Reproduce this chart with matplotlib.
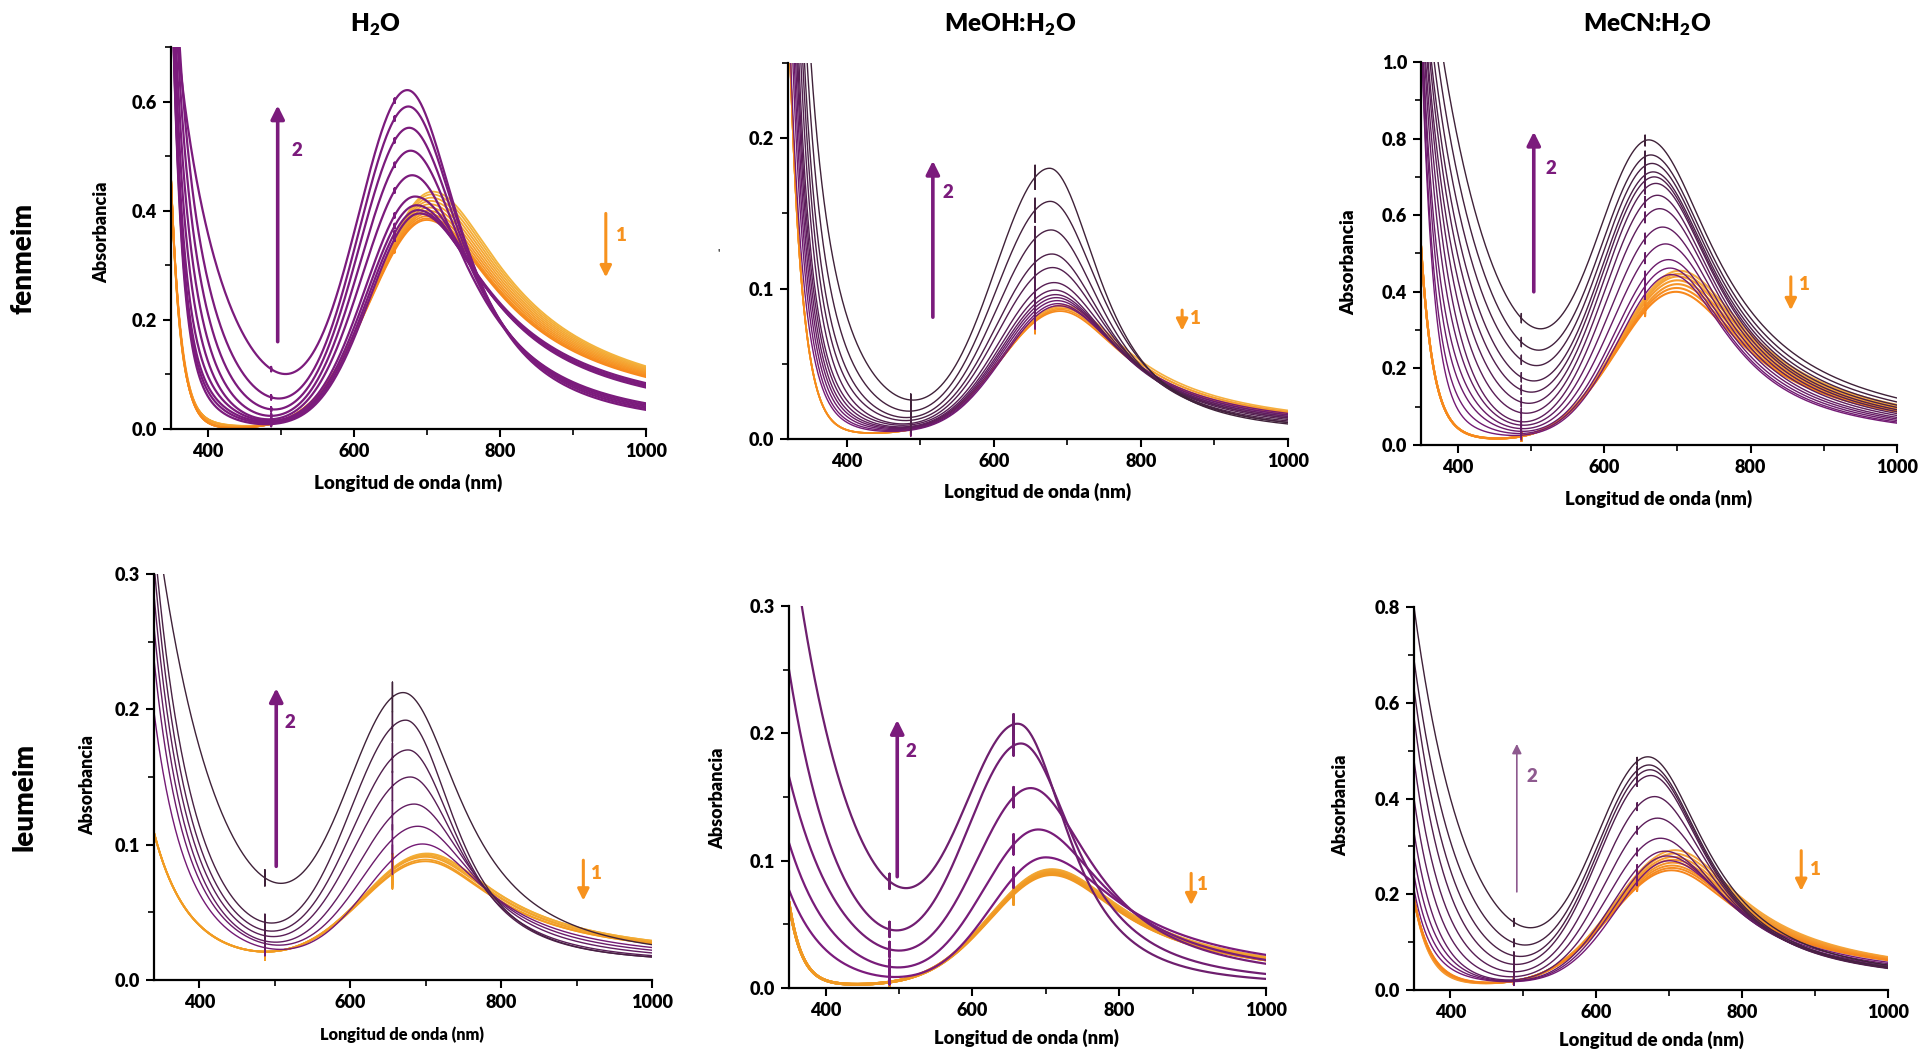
import numpy as np
import matplotlib

matplotlib.use("Agg")

import matplotlib.pyplot as plt
from matplotlib.colors import to_rgb
from matplotlib.ticker import FormatStrFormatter, MultipleLocator


plt.rcParams["font.family"] = ["Lato", "DejaVu Sans"]
plt.rcParams["font.weight"] = "heavy"
plt.rcParams["mathtext.fontset"] = "custom"
plt.rcParams["mathtext.rm"] = "Lato:heavy"
plt.rcParams["mathtext.bf"] = "Lato:heavy"

FIG_W, FIG_H = 1919, 1057

# Each spectrum row: peak absorbance, peak wavelength (nm), A(1000 nm), A(350 nm), A(400 nm), A(495 nm)
# Rows are in acquisition order: orange series (step 1) then purple series (step 2).

FEN_H2O_ORANGE = [
    (0.435, 708, 0.115, 0.46, 0.012, 0.012),
    (0.430, 707, 0.113, 0.46, 0.012, 0.012),
    (0.424, 706, 0.111, 0.46, 0.012, 0.012),
    (0.418, 705, 0.109, 0.46, 0.012, 0.012),
    (0.412, 704, 0.107, 0.46, 0.012, 0.012),
    (0.406, 703, 0.105, 0.46, 0.012, 0.012),
    (0.400, 702, 0.103, 0.46, 0.012, 0.012),
    (0.395, 701, 0.101, 0.46, 0.012, 0.012),
    (0.390, 700, 0.099, 0.46, 0.012, 0.012),
    (0.386, 700, 0.097, 0.46, 0.012, 0.012),
    (0.383, 700, 0.095, 0.46, 0.012, 0.012),
]
FEN_H2O_PURPLE = [
    (0.395, 690, 0.084, 0.90, 0.05, 0.010),
    (0.401, 688, 0.081, 0.90, 0.06, 0.012),
    (0.410, 686, 0.079, 0.90, 0.07, 0.014),
    (0.426, 684, 0.076, 0.90, 0.09, 0.016),
    (0.465, 680, 0.047, 0.92, 0.12, 0.019),
    (0.510, 678, 0.044, 0.95, 0.16, 0.025),
    (0.552, 676, 0.041, 1.00, 0.21, 0.036),
    (0.591, 675, 0.038, 1.05, 0.27, 0.056),
    (0.621, 674, 0.035, 0.85, 0.36, 0.104),
]

FEN_MEOH_ORANGE = [
    (0.089, 693, 0.019, 0.055, 0.006, 0.007),
    (0.088, 692, 0.018, 0.055, 0.006, 0.007),
    (0.087, 692, 0.018, 0.055, 0.006, 0.007),
    (0.086, 691, 0.017, 0.055, 0.006, 0.007),
    (0.085, 690, 0.017, 0.055, 0.006, 0.007),
]
FEN_MEOH_PURPLE = [
    (0.0886, 688, 0.017, 0.07, 0.008, 0.0065),
    (0.090, 687, 0.016, 0.08, 0.009, 0.0070),
    (0.092, 686, 0.016, 0.09, 0.011, 0.0075),
    (0.094, 685, 0.015, 0.10, 0.013, 0.0080),
    (0.096, 684, 0.015, 0.11, 0.015, 0.0085),
    (0.099, 683, 0.014, 0.12, 0.018, 0.0090),
    (0.104, 682, 0.014, 0.13, 0.021, 0.0100),
    (0.114, 680, 0.013, 0.15, 0.026, 0.0110),
    (0.123, 679, 0.012, 0.17, 0.033, 0.0130),
    (0.139, 678, 0.011, 0.19, 0.041, 0.0150),
    (0.158, 677, 0.011, 0.22, 0.055, 0.0190),
    (0.180, 676, 0.010, 0.26, 0.077, 0.0260),
]

FEN_MECN_ORANGE = [
    (0.455, 703, 0.105, 0.52, 0.025, 0.026),
    (0.447, 702, 0.101, 0.52, 0.025, 0.026),
    (0.440, 701, 0.098, 0.52, 0.025, 0.026),
    (0.430, 700, 0.095, 0.52, 0.025, 0.026),
    (0.420, 700, 0.092, 0.52, 0.025, 0.026),
    (0.410, 699, 0.089, 0.52, 0.025, 0.026),
    (0.400, 698, 0.087, 0.52, 0.025, 0.026),
]
FEN_MECN_PURPLE = [
    (0.445, 692, 0.057, 1.10, 0.05, 0.027),
    (0.462, 690, 0.060, 1.10, 0.09, 0.031),
    (0.484, 688, 0.064, 1.15, 0.14, 0.036),
    (0.525, 684, 0.068, 1.15, 0.19, 0.043),
    (0.569, 680, 0.072, 1.20, 0.25, 0.052),
    (0.617, 676, 0.077, 1.20, 0.31, 0.061),
    (0.652, 673, 0.082, 1.25, 0.37, 0.083),
    (0.683, 671, 0.087, 1.25, 0.43, 0.109),
    (0.700, 669, 0.092, 1.30, 0.49, 0.139),
    (0.713, 668, 0.098, 1.30, 0.55, 0.170),
    (0.735, 667, 0.104, 1.35, 0.62, 0.213),
    (0.757, 666, 0.112, 1.40, 0.70, 0.257),
    (0.796, 664, 0.122, 1.45, 0.80, 0.317),
]

LEU_H2O_ORANGE = [
    (0.0935, 702, 0.029, 0.09, 0.039, 0.021),
    (0.0930, 702, 0.029, 0.09, 0.039, 0.021),
    (0.0920, 701, 0.028, 0.09, 0.039, 0.021),
    (0.0910, 700, 0.028, 0.09, 0.039, 0.021),
    (0.0890, 700, 0.027, 0.09, 0.039, 0.021),
    (0.0877, 700, 0.027, 0.09, 0.039, 0.021),
]
LEU_H2O_PURPLE = [
    (0.1005, 696, 0.024, 0.16, 0.060, 0.023),
    (0.1136, 690, 0.022, 0.19, 0.068, 0.026),
    (0.1300, 685, 0.020, 0.21, 0.076, 0.028),
    (0.1500, 680, 0.018, 0.23, 0.085, 0.032),
    (0.1700, 677, 0.017, 0.25, 0.095, 0.036),
    (0.1920, 674, 0.017, 0.27, 0.110, 0.042),
    (0.2123, 672, 0.026, 0.31, 0.172, 0.073),
]

LEU_MEOH_ORANGE = [
    (0.0930, 708, 0.024, 0.067, 0.006, 0.005),
    (0.0925, 708, 0.024, 0.067, 0.006, 0.005),
    (0.0920, 708, 0.023, 0.067, 0.006, 0.005),
    (0.0915, 708, 0.023, 0.067, 0.006, 0.005),
    (0.0910, 708, 0.023, 0.067, 0.006, 0.005),
    (0.0905, 708, 0.022, 0.067, 0.006, 0.005),
    (0.0900, 708, 0.022, 0.067, 0.006, 0.005),
    (0.0890, 708, 0.022, 0.067, 0.006, 0.005),
]
LEU_MEOH_PURPLE = [
    (0.1026, 700, 0.026, 0.077, 0.030, 0.0050),
    (0.1245, 690, 0.022, 0.114, 0.051, 0.0090),
    (0.1570, 680, 0.019, 0.166, 0.082, 0.0155),
    (0.1920, 667, 0.011, 0.250, 0.122, 0.0275),
    (0.2074, 664, 0.007, 0.370, 0.203, 0.0670),
]

LEU_MECN_ORANGE = [
    (0.292, 708, 0.069, 0.19, 0.027, 0.021),
    (0.285, 707, 0.068, 0.19, 0.027, 0.021),
    (0.278, 706, 0.067, 0.19, 0.027, 0.021),
    (0.272, 705, 0.066, 0.19, 0.027, 0.021),
    (0.266, 705, 0.065, 0.19, 0.027, 0.021),
    (0.260, 704, 0.064, 0.19, 0.027, 0.021),
    (0.255, 704, 0.063, 0.19, 0.027, 0.021),
    (0.250, 703, 0.062, 0.19, 0.027, 0.021),
]
LEU_MECN_PURPLE = [
    (0.270, 700, 0.058, 0.21, 0.035, 0.018),
    (0.280, 697, 0.055, 0.24, 0.045, 0.019),
    (0.290, 694, 0.052, 0.28, 0.060, 0.020),
    (0.317, 688, 0.050, 0.33, 0.080, 0.021),
    (0.359, 684, 0.048, 0.40, 0.110, 0.027),
    (0.404, 680, 0.046, 0.48, 0.150, 0.037),
    (0.448, 675, 0.045, 0.57, 0.200, 0.051),
    (0.460, 674, 0.046, 0.63, 0.250, 0.065),
    (0.470, 673, 0.048, 0.69, 0.310, 0.083),
    (0.487, 672, 0.052, 0.80, 0.400, 0.110),
]

SOLVENTS = ["H$_2$O", "MeOH:H$_2$O", "MeCN:H$_2$O"]
COMPOUNDS = ["fenmeim", "leumeim"]

PURPLE = "#7b1b7c"
ORANGE = "#f7921e"
LN2 = np.log(2.0)


def band(wl, height, center, tail, width_left, gamma):
    # gaussian blue side, slow power-law red side that lands on the 1000 nm value
    d = np.asarray(wl, dtype=float) - center
    tail = max(tail, 1e-4)
    power = np.log(height / tail) / np.log(1.0 + ((1000.0 - center) / gamma) ** 2)
    left = height * np.exp(-LN2 * (d / width_left) ** 2)
    right = height * (1.0 + (d / gamma) ** 2) ** (-power)
    return np.where(d < 0, left, right)


def uv_terms(row, height, width_left, gamma, base, edge_decay):
    peak, center, tail, a350, a400, a495 = row

    def b(x):
        return float(band(x, height, center, tail - base, width_left, gamma))

    uv400 = max(a400 - base - b(400.0), 1e-4)
    uv495 = max(a495 - base - b(495.0), 1e-5)
    decay = float(np.clip(95.0 / np.log(max(uv400 / uv495, 1.01)), 10.0, 160.0))
    broad = uv400 * np.exp(50.0 / decay)
    cap = a350 - base - b(350.0)
    if broad > cap and cap > uv400:
        decay = 50.0 / np.log(cap / uv400)
        broad = cap
    edge = max(cap - broad, 0.0)

    def uv(x):
        return (broad * np.exp(-(x - 350.0) / decay)
                + edge * np.exp(-(x - 350.0) / edge_decay))
    return uv


def spectrum(wl, row, width_left, gamma, base, edge_decay):
    peak, center, tail = row[0], row[1], row[2]
    height = peak - base
    for _ in range(4):
        uv = uv_terms(row, height, width_left, gamma, base, edge_decay)
        height = peak - base - float(uv(center))
    return base + band(wl, height, center, tail - base, width_left, gamma) + uv(wl)


def add_glitches(wl, y, spots):
    for pos, size in spots:
        i = int(np.searchsorted(wl, pos))
        v = y[i]
        wl = np.insert(wl, i, [pos, pos, pos])
        y = np.insert(y, i, [v, v + size, v - size])
    return wl, y


def blend(c1, c2, n):
    a, b = np.array(to_rgb(c1)), np.array(to_rgb(c2))
    if n == 1:
        return [tuple(b)]
    return [tuple(a + (b - a) * k / (n - 1)) for k in range(n)]


THIN_PURPLE = ("#741a75", "#3f2239")

PANELS = [
    dict(
        orange=FEN_H2O_ORANGE, purple=FEN_H2O_PURPLE,
        rect=(171, 47, 646, 429), xlim=(350, 1000), ylim=(0, 0.7), ystep=0.2,
        shape=(80, 92, 95, 0.0, 12), glitch=((487, 0.004), (656, 0.004)),
        purple_colors=(PURPLE, PURPLE), orange_colors=("#f3b43e", "#f7891c"),
        lw=(1.6, 1.3),
        up=(496, 0.16, 0.593, 2.6, PURPLE), up_label=(522, 0.511),
        down=(945, 0.395, 0.278), down_label=(967, 0.355),
        title=(375, 25, 0), ylabel=(102, 232, 13), xlabel=(408, 483, 13.5),
    ),
    dict(
        orange=FEN_MEOH_ORANGE, purple=FEN_MEOH_PURPLE,
        rect=(788, 63, 1288, 439), xlim=(320, 1000), ylim=(0, 0.25), ystep=0.1,
        shape=(88, 95, 95, 0.003, 18), glitch=((487, 0.004), (656, 0.008)),
        purple_colors=THIN_PURPLE, orange_colors=("#f5b040", "#f68a1c"),
        lw=(1.0, 1.2),
        up=(517, 0.081, 0.185, 2.6, PURPLE), up_label=(538, 0.164),
        down=(856, 0.0857, 0.072), down_label=(874, 0.080),
        title=(1010, 25, 1), ylabel=None, xlabel=(1038, 492, 13.4),
    ),
    dict(
        orange=FEN_MECN_ORANGE, purple=FEN_MECN_PURPLE,
        rect=(1421, 62, 1897, 445), xlim=(350, 1000), ylim=(0, 1.0), ystep=0.2,
        shape=(85, 95, 95, 0.008, 16), glitch=((487, 0.012), (656, 0.014)),
        purple_colors=THIN_PURPLE, orange_colors=("#f5ae40", "#f7881c"),
        lw=(1.0, 1.5),
        up=(504, 0.40, 0.818, 2.6, PURPLE), up_label=(528, 0.722),
        down=(855, 0.439, 0.352), down_label=(874, 0.42),
        title=(1647, 25, 2), ylabel=(1349, 262, 13.5), xlabel=(1659, 499, 13.4),
    ),
    dict(
        orange=LEU_H2O_ORANGE, purple=LEU_H2O_PURPLE,
        rect=(154, 574, 652, 980), xlim=(340, 1000), ylim=(0, 0.3), ystep=0.1,
        shape=(88, 100, 95, 0.012, 25), glitch=((487, 0.006), (656, 0.011)),
        purple_colors=THIN_PURPLE, orange_colors=("#f2b03a", "#f29b22"),
        lw=(1.0, 1.3),
        up=(502, 0.084, 0.2156, 2.6, PURPLE), up_label=(520, 0.19),
        down=(909, 0.0885, 0.0587), down_label=(927, 0.079),
        title=None, ylabel=(88, 785, 12.8), xlabel=(402, 1035, 11.8),
    ),
    dict(
        orange=LEU_MEOH_ORANGE, purple=LEU_MEOH_PURPLE,
        rect=(789, 606, 1266, 988), xlim=(350, 1000), ylim=(0, 0.3), ystep=0.1,
        shape=(88, 98, 100, 0.002, 18), glitch=((487, 0.006), (656, 0.008)),
        purple_colors=(PURPLE, "#6e1f6e"), orange_colors=("#f2aa38", "#f09822"),
        lw=(1.6, 2.0),
        up=(497.5, 0.0874, 0.2105, 2.6, PURPLE), up_label=(516, 0.186),
        down=(898, 0.090, 0.065), down_label=(914, 0.081),
        title=None, ylabel=(718, 798, 13), xlabel=(1026, 1038, 13.2),
    ),
    dict(
        orange=LEU_MECN_ORANGE, purple=LEU_MECN_PURPLE,
        rect=(1414, 607, 1888, 990), xlim=(350, 1000), ylim=(0, 0.8), ystep=0.2,
        shape=(85, 98, 95, 0.010, 20), glitch=((487, 0.008), (656, 0.008)),
        purple_colors=THIN_PURPLE, orange_colors=("#f5a73c", "#f5851c"),
        lw=(1.0, 1.4),
        up=(491, 0.205, 0.514, 1.2, "#8e5a8f"), up_label=(512, 0.445),
        down=(881, 0.291, 0.207), down_label=(900, 0.251),
        title=None, ylabel=(1341, 805, 13), xlabel=(1651, 1040, 13.2),
    ),
]


def fig_xy(x, y):
    return x / FIG_W, 1.0 - y / FIG_H


def draw_panel(fig, p):
    left, top, right, bottom = p["rect"]
    ax = fig.add_axes([
        left / FIG_W, 1.0 - bottom / FIG_H,
        (right - left) / FIG_W, (bottom - top) / FIG_H,
    ])

    wl = np.arange(p["xlim"][0], 1000.5, 1.0)
    wl_purple, wl_orange, gamma, base, edge_decay = p["shape"]
    lw_purple, lw_orange = p["lw"]

    orange_cols = blend(*p["orange_colors"], len(p["orange"]))
    for row, col in zip(p["orange"], orange_cols):
        y = spectrum(wl, row, wl_orange, gamma, base, edge_decay)
        xs, ys = add_glitches(wl, y, p["glitch"])
        ax.plot(xs, ys, color=col, lw=lw_orange, solid_joinstyle="round")

    purple_cols = blend(*p["purple_colors"], len(p["purple"]))
    for row, col in zip(p["purple"], purple_cols):
        y = spectrum(wl, row, wl_purple, gamma, base, edge_decay)
        xs, ys = add_glitches(wl, y, p["glitch"])
        ax.plot(xs, ys, color=col, lw=lw_purple, solid_joinstyle="round")

    ax.set_xlim(*p["xlim"])
    ax.set_ylim(*p["ylim"])
    ax.xaxis.set_major_locator(MultipleLocator(200))
    ax.xaxis.set_minor_locator(MultipleLocator(100))
    ax.yaxis.set_major_locator(MultipleLocator(p["ystep"]))
    ax.yaxis.set_minor_locator(MultipleLocator(p["ystep"] / 2))
    ax.yaxis.set_major_formatter(FormatStrFormatter("%.1f"))

    for side in ("top", "right"):
        ax.spines[side].set_visible(False)
    for side in ("left", "bottom"):
        ax.spines[side].set_linewidth(1.6)
    ax.tick_params(which="major", direction="out", length=6, width=1.5,
                   labelsize=13, pad=4)
    ax.tick_params(which="minor", direction="out", length=4, width=1.2)

    # reaction arrows
    x_up, y0, y1, arrow_lw, arrow_col = p["up"]
    ax.annotate("", xy=(x_up, y1), xytext=(x_up, y0),
                arrowprops=dict(arrowstyle="-|>", color=arrow_col, lw=arrow_lw,
                                mutation_scale=20 if arrow_lw > 2 else 14,
                                shrinkA=0, shrinkB=0))
    ax.text(*p["up_label"], "2", color=arrow_col, fontsize=13.5,
            ha="center", va="center")

    x_dn, y0, y1 = p["down"]
    ax.annotate("", xy=(x_dn, y1), xytext=(x_dn, y0),
                arrowprops=dict(arrowstyle="-|>", color=ORANGE, lw=2.2,
                                mutation_scale=17, shrinkA=0, shrinkB=0))
    ax.text(*p["down_label"], "1", color=ORANGE, fontsize=13.5,
            ha="center", va="center")

    if p["title"] is not None:
        tx, ty, idx = p["title"]
        fig.text(*fig_xy(tx, ty), SOLVENTS[idx], fontsize=17.5,
                 ha="center", va="center")
    if p["ylabel"] is not None:
        lx, ly, size = p["ylabel"]
        fig.text(*fig_xy(lx, ly), "Absorbancia", fontsize=size,
                 rotation=90, ha="center", va="center")
    lx, ly, size = p["xlabel"]
    fig.text(*fig_xy(lx, ly), "Longitud de onda (nm)", fontsize=size,
             ha="center", va="center")
    return ax


def main() -> None:
    fig = plt.figure(figsize=(FIG_W / 100, FIG_H / 100), dpi=100)
    fig.patch.set_facecolor("white")

    for panel in PANELS:
        draw_panel(fig, panel)

    fig.text(*fig_xy(24, 258), COMPOUNDS[0], fontsize=20,
             rotation=90, ha="center", va="center")
    fig.text(*fig_xy(24, 797), COMPOUNDS[1], fontsize=20,
             rotation=90, ha="center", va="center")
    # stray mark left of the MeOH:H2O axis
    fig.text(*fig_xy(719, 253), "'", fontsize=8, color="#555555",
             ha="center", va="center")

    fig.savefig("out.png", dpi=100)
    plt.close(fig)


if __name__ == "__main__":
    main()
